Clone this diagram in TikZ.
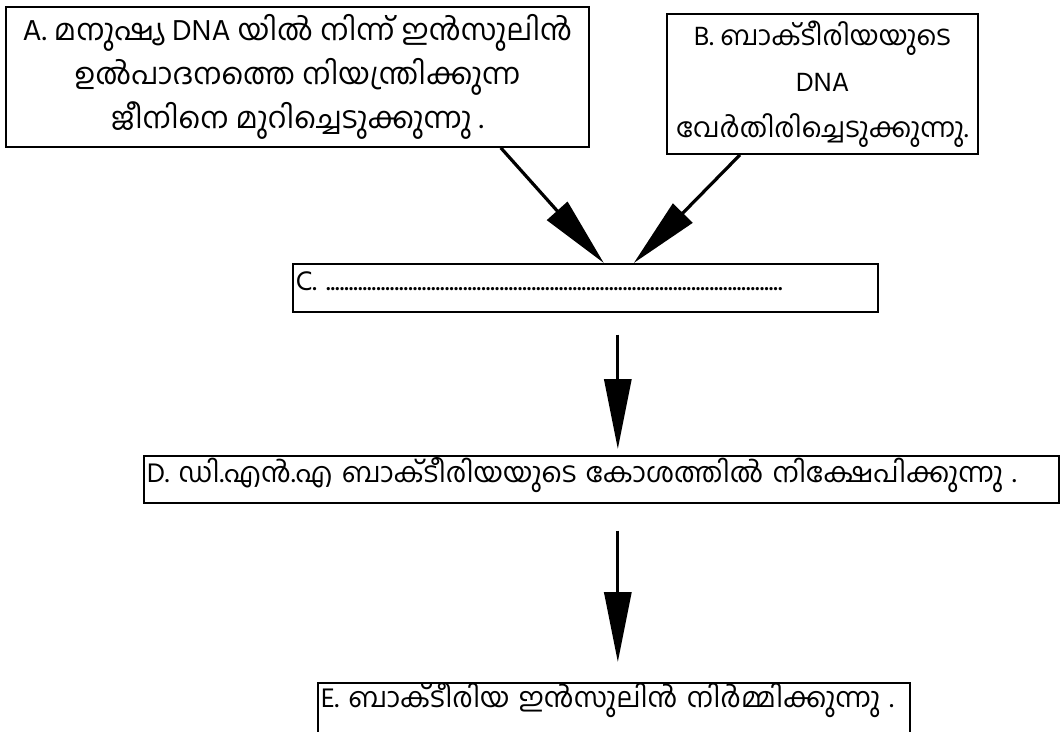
\documentclass[tikz,border=0pt]{standalone}
\usepackage{fontspec}
\setmainfont[Script=Malayalam]{Hind Kochi}
\usetikzlibrary{arrows.meta}
\begin{document}
\begin{tikzpicture}[x=1pt,y=-1pt,
    box/.style={draw,line width=1.6pt,inner sep=0pt},
    stepbig/.style={box,anchor=north west,inner xsep=3pt,align=left,font=\fontsize{27.5}{34}\selectfont},
    stepsmall/.style={box,align=center},
    flow/.style={line width=3.2pt,-{Triangle[length=70pt,width=27pt]}}]
    \useasboundingbox (0,0) rectangle (1062,731);
    \node[stepsmall,minimum width=583pt,minimum height=140pt,font=\fontsize{29.5}{44}\selectfont] (A) at(297.5,77) {A. മനുഷ്യ DNA യിൽ നിന്ന് ഇൻസുലിൻ\\ഉൽപാദനത്തെ നിയന്ത്രിക്കുന്ന\\ജീനിനെ മുറിച്ചെടുക്കുന്നു .};
    \node[stepsmall,minimum width=311pt,minimum height=140pt,font=\fontsize{27}{46}\selectfont] (B) at(822.5,84) {B. ബാക്ടീരിയയുടെ\\DNA\\വേർതിരിച്ചെടുക്കുന്നു.};
    \node[stepbig,text width=579pt,text height=27pt,text depth=21pt] (C) at(292,263) {C. ....................................................................................................};
    \node[stepbig,text width=909pt,text height=27pt,text depth=20pt] (D) at(143,455) {D. ഡി.എൻ.എ ബാക്ടീരിയയുടെ കോശത്തിൽ നിക്ഷേപിക്കുന്നു .};
    \node[stepbig,text width=586pt,text height=25pt,text depth=40pt] (E) at(317,682) {E. ബാക്ടീരിയ ഇൻസുലിൻ നിർമ്മിക്കുന്നു .};
    \draw[flow] ([xshift=-89pt]A.south east) -- ([xshift=18.5pt]C.north);
    \draw[flow] ([xshift=-82.5pt]B.south) -- ([xshift=48.5pt]C.north);
    \draw[flow] ([xshift=32.5pt,yshift=-22pt]C.south) -- ([xshift=16.5pt,yshift=6pt]D.north);
    \draw[flow] ([xshift=16.5pt,yshift=-27pt]D.south) -- ([xshift=4pt,yshift=20pt]E.north);
\end{tikzpicture}
\end{document}
